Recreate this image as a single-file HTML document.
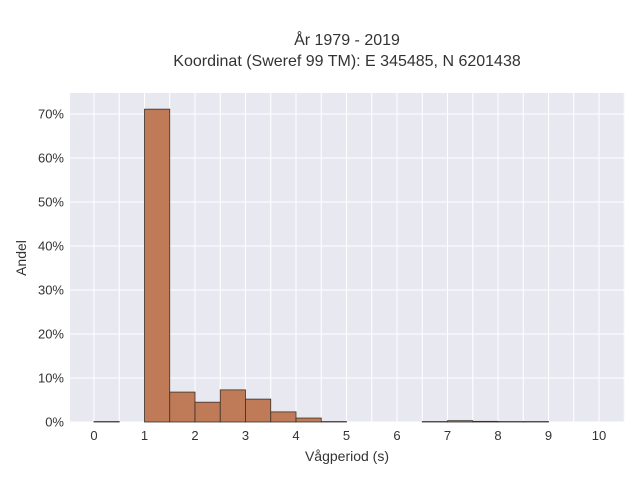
<!DOCTYPE html>
<html><head><meta charset="utf-8"><style>
body{margin:0;background:#fff;font-family:"Liberation Sans",sans-serif}
</style></head><body>
<svg width="640" height="480" xmlns="http://www.w3.org/2000/svg">
<rect width="640" height="480" fill="#fff"/>
<rect x="70" y="93" width="555" height="329" fill="#e8e8f0"/>
<g id="grid"></g>
<g id="bars"></g>
<g id="ticks" font-size="13" fill="#333"></g>
<text x="347" y="45" text-anchor="middle" font-size="16" fill="#333">År 1979 - 2019</text>
<text x="347" y="66" text-anchor="middle" font-size="16" fill="#333">Koordinat (Sweref 99 TM): E 345485, N 6201438</text>
<text x="347" y="461" text-anchor="middle" font-size="14" fill="#333">Vågperiod (s)</text>
<text x="26" y="258" text-anchor="middle" font-size="14" fill="#333" transform="rotate(-90 26 258)">Andel</text>
</svg>
<script>
const binStarts=[0,1,1.5,2,2.5,3,3.5,4,4.5,6.5,7,7.5,8,8.5];
const shares=[0.1,71.1,6.8,4.5,7.3,5.2,2.3,0.9,0.1,0.1,0.3,0.15,0.1,0.1];
const xTicks=[0,1,2,3,4,5,6,7,8,9,10];
const yTicks=[0,10,20,30,40,50,60,70];
const binWidth=0.5;
const NS="http://www.w3.org/2000/svg";
const xs=v=>94+v*50.5;
const ys=v=>422-v*4.4;
const grid=document.getElementById('grid'),bars=document.getElementById('bars'),ticks=document.getElementById('ticks');
function mk(t,a){const e=document.createElementNS(NS,t);for(const k in a)e.setAttribute(k,a[k]);return e;}
for(let v=-0.5;v<=10.5;v+=0.5){const x=xs(v);if(x<70||x>625)continue;
 const l=mk('line',{x1:x,x2:x,y1:93,y2:422,stroke:'#fff','stroke-width':1});
 
 
 grid.appendChild(l);}
yTicks.forEach(v=>{const y=ys(v);
 const l=mk('line',{x1:70,x2:625,y1:y,y2:y,stroke:'#fff','stroke-width':1});
 
 
 grid.appendChild(l);
 const t=mk('text',{x:64,y:y+4.5,'text-anchor':'end'});t.textContent=v+'%';
 
 
 ticks.appendChild(t);});
xTicks.forEach(v=>{const t=mk('text',{x:xs(v),y:440,'text-anchor':'middle'});t.textContent=v;
 
 
 ticks.appendChild(t);});
binStarts.forEach((b,i)=>{const x0=xs(b),x1=xs(b+binWidth),y=ys(shares[i]);
 const r=mk('rect',{x:x0,y:y,width:x1-x0,height:422-y,fill:'#bf7b57',stroke:'#3a3028','stroke-width':0.8});
 
 
 bars.appendChild(r);});
</script>
</body></html>
